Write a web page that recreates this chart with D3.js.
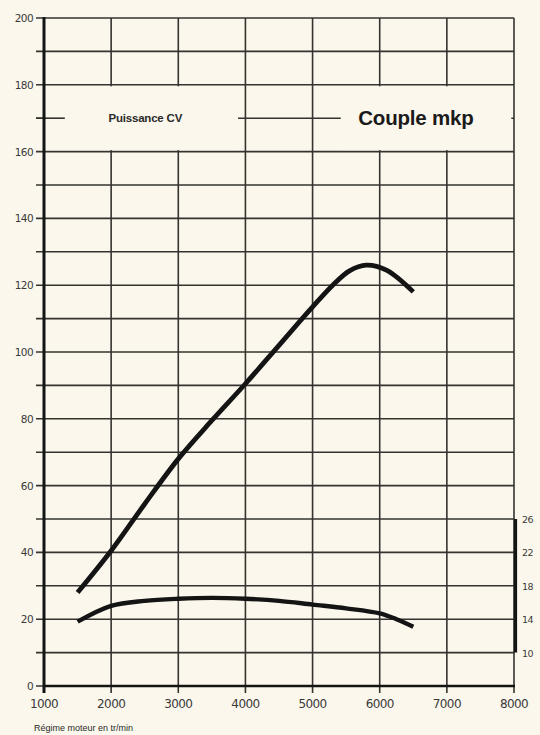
<!DOCTYPE html>
<html>
<head>
<meta charset="utf-8">
<script src="https://cdn.jsdelivr.net/npm/d3@7"></script>
<style>
  html, body { margin: 0; padding: 0; background: #fbf7ec; }
  svg { display: block; }
</style>
</head>
<body>
<svg id="chart" width="540" height="735"></svg>
<script>
// ---- data ----
const rpmTicks = [1000, 2000, 3000, 4000, 5000, 6000, 7000, 8000];
const powerTickLabels = [0, 20, 40, 60, 80, 100, 120, 140, 160, 180, 200];
const powerGrid = d3.range(0, 201, 10);
const torqueTicks = [10, 14, 18, 22, 26];

const powerRpm = [1500, 2000, 2500, 3000, 3500, 4000, 4500, 5000, 5300, 5550, 5800, 6100, 6500];
const powerCV  = [28, 40.5, 54.5, 68, 79.5, 90.5, 102, 113.5, 120, 124.3, 126, 124.5, 118];

const torqueRpm = [1500, 2000, 2500, 3000, 3500, 4000, 4500, 5000, 5500, 6000, 6250, 6500];
const torqueMkp = [13.7, 15.6, 16.2, 16.45, 16.55, 16.45, 16.2, 15.75, 15.3, 14.7, 14.0, 13.1];

const legendLabels = ["Puissance CV", "Couple mkp"];
const xTitle = "Régime moteur en tr/min";

// ---- layout ----
const svg = d3.select("#chart");
const x = d3.scaleLinear().domain([1000, 8000]).range([44, 514]);
const y = d3.scaleLinear().domain([0, 200]).range([686, 18]);
const yT = d3.scaleLinear().domain([10, 26]).range([y(10), y(50)]);

const gridColor = "#35332f";
const ink = "#141414";
const bg = "#fbf7ec";

// horizontal gridlines (with small left ticks)
svg.append("g").selectAll("line").data(powerGrid).join("line")
  .attr("x1", 36).attr("x2", x(8000))
  .attr("y1", d => y(d)).attr("y2", d => y(d))
  .attr("stroke", gridColor).attr("stroke-width", 1.6);

// vertical gridlines (with ticks below axis)
svg.append("g").selectAll("line").data(rpmTicks.slice(1)).join("line")
  .attr("x1", d => x(d)).attr("x2", d => x(d))
  .attr("y1", y(200)).attr("y2", y(0) + 7)
  .attr("stroke", gridColor).attr("stroke-width", 1.6);

// legend band: blank out grid behind the legend texts
const gaps = [[1030, 3890], [5420, 7960]];
svg.append("g").selectAll("rect").data(gaps).join("rect")
  .attr("x", d => x(d[0])).attr("width", d => x(d[1]) - x(d[0]))
  .attr("y", y(180) + 1.5).attr("height", y(160) - y(180) - 3)
  .attr("fill", bg);

// short legend stroke at left
svg.append("line")
  .attr("x1", 36).attr("x2", x(1310))
  .attr("y1", y(170)).attr("y2", y(170))
  .attr("stroke", gridColor).attr("stroke-width", 1.6);

// legend texts
svg.append("text")
  .attr("x", x(1960)).attr("y", y(170) + 4)
  .attr("font-family", "Liberation Sans, Arial, sans-serif")
  .attr("font-size", 11.5).attr("font-weight", "bold")
  .attr("fill", "#2a2a2a").attr("letter-spacing", -0.2)
  .text(legendLabels[0]);
svg.append("text")
  .attr("x", x(5680)).attr("y", y(170) + 7)
  .attr("font-family", "Liberation Sans, Arial, sans-serif")
  .attr("font-size", 20.5).attr("font-weight", "bold")
  .attr("fill", "#1a1a1a").attr("letter-spacing", -0.2)
  .text(legendLabels[1]);

// left axis line
svg.append("line")
  .attr("x1", x(1000)).attr("x2", x(1000))
  .attr("y1", y(200) - 1).attr("y2", y(0) + 7)
  .attr("stroke", ink).attr("stroke-width", 3);
// bottom axis line
svg.append("line")
  .attr("x1", x(1000) - 1).attr("x2", x(8000) + 1)
  .attr("y1", y(0)).attr("y2", y(0))
  .attr("stroke", ink).attr("stroke-width", 2.6);
// right torque axis
svg.append("line")
  .attr("x1", x(8000) + 1.5).attr("x2", x(8000) + 1.5)
  .attr("y1", yT(26)).attr("y2", yT(10))
  .attr("stroke", ink).attr("stroke-width", 3.2);

// left tick labels
svg.append("g").selectAll("text").data(powerTickLabels).join("text")
  .attr("x", 33).attr("y", d => y(d) + 4)
  .attr("text-anchor", "end")
  .attr("font-family", "DejaVu Sans, sans-serif")
  .attr("font-size", 10.5).attr("fill", "#3a3a3a").attr("letter-spacing", -0.6)
  .text(d => d);

// bottom tick labels
svg.append("g").selectAll("text").data(rpmTicks).join("text")
  .attr("x", d => x(d)).attr("y", y(0) + 22)
  .attr("text-anchor", "middle")
  .attr("font-family", "DejaVu Sans, sans-serif")
  .attr("font-size", 12).attr("fill", "#3a3a3a").attr("letter-spacing", -0.6)
  .text(d => d);

// right torque tick labels
svg.append("g").selectAll("text").data(torqueTicks).join("text")
  .attr("x", x(8000) + 8).attr("y", d => yT(d) + 4)
  .attr("font-family", "DejaVu Sans, sans-serif")
  .attr("font-size", 9.5).attr("fill", "#3a3a3a").attr("letter-spacing", -0.5)
  .text(d => d);

// x axis title
svg.append("text")
  .attr("x", 34).attr("y", 731)
  .attr("font-family", "Liberation Sans, Arial, sans-serif")
  .attr("font-size", 9).attr("fill", "#2a2a2a")
  .text(xTitle);

// curves
const powerLine = d3.line()
  .x((d, i) => x(powerRpm[i]))
  .y(d => y(d))
  .curve(d3.curveCatmullRom.alpha(0.5));
svg.append("path")
  .attr("d", powerLine(powerCV))
  .attr("fill", "none").attr("stroke", ink)
  .attr("stroke-width", 4.8).attr("stroke-linecap", "butt");

const torqueLine = d3.line()
  .x((d, i) => x(torqueRpm[i]))
  .y(d => yT(d))
  .curve(d3.curveCatmullRom.alpha(0.5));
svg.append("path")
  .attr("d", torqueLine(torqueMkp))
  .attr("fill", "none").attr("stroke", ink)
  .attr("stroke-width", 4.4).attr("stroke-linecap", "butt");
</script>
</body>
</html>
